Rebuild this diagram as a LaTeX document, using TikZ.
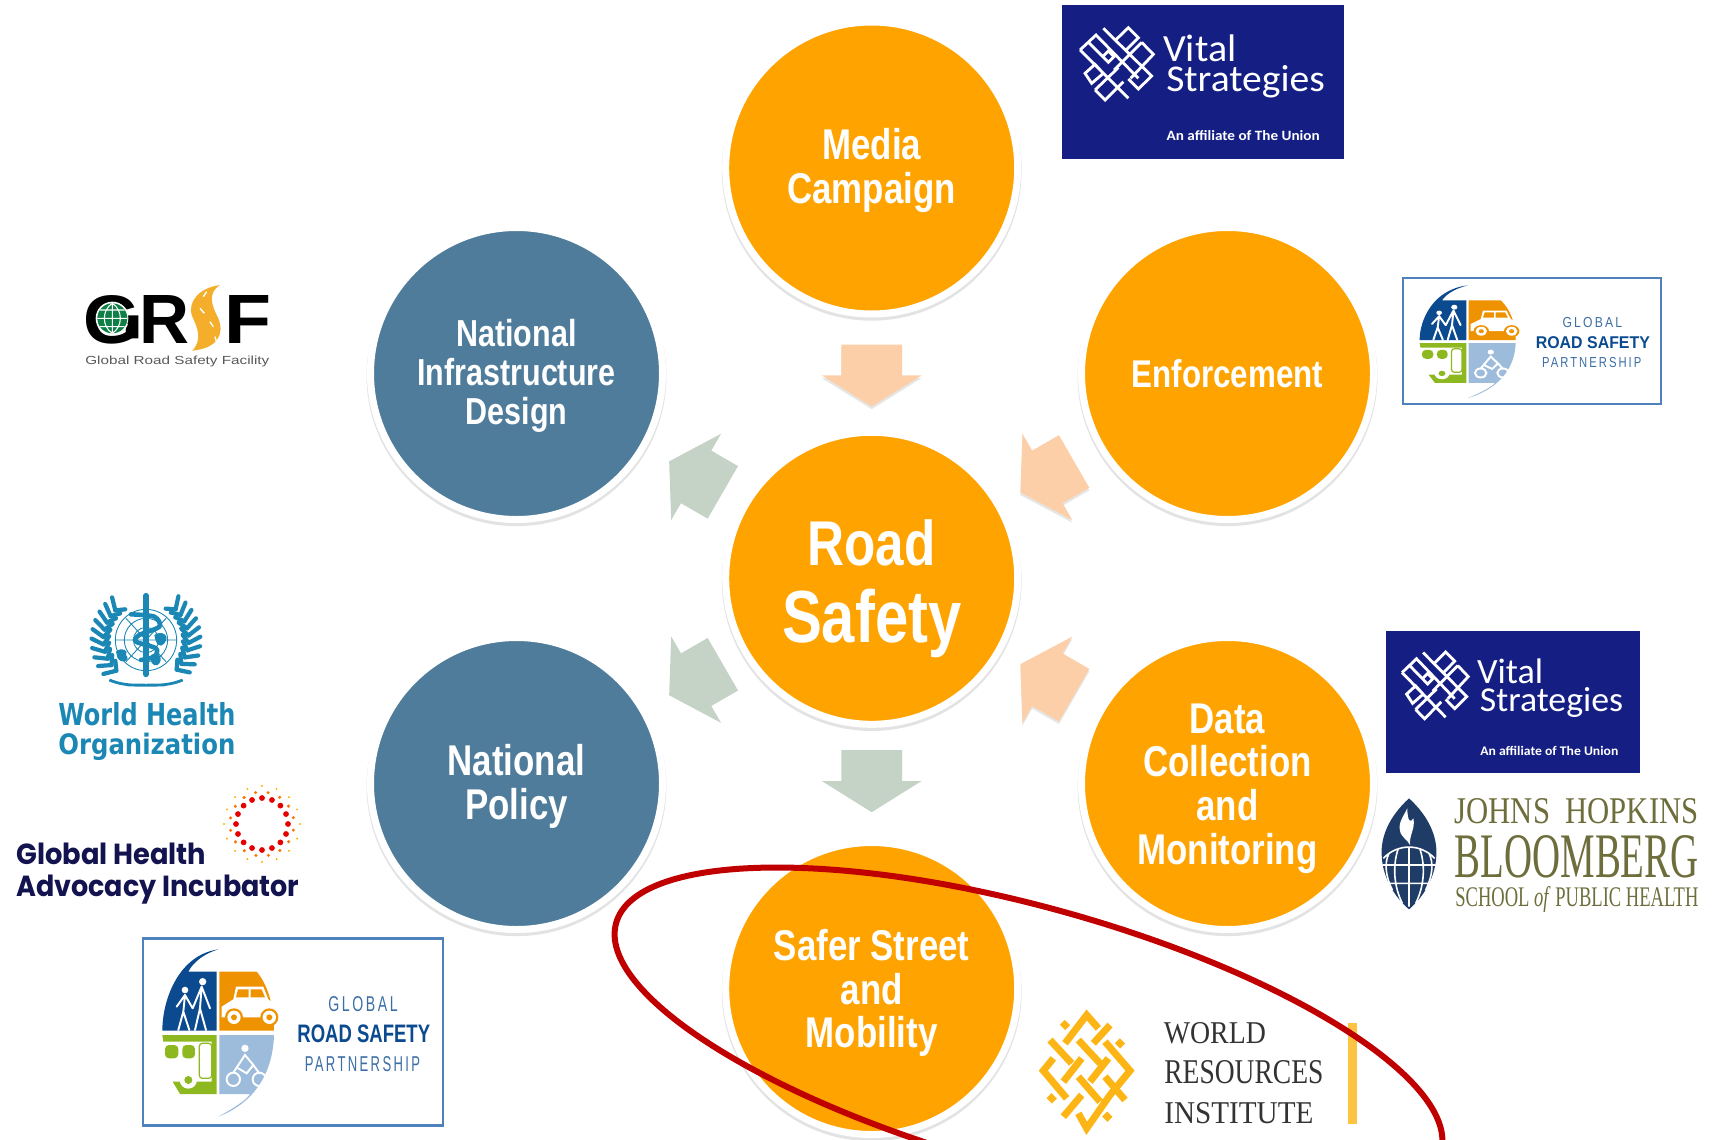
\documentclass[tikz,border=0pt]{standalone}
\usepackage{fontspec}
\usetikzlibrary{shapes.geometric,shapes.arrows,shadows}
\newfontfamily\labelfont[FakeStretch=0.81]{Liberation Sans}
\newfontfamily\plainfont{Liberation Sans}
\newfontfamily\spacedfont[LetterSpace=18]{Liberation Sans}
\newfontfamily\vitalfont{Carlito}
\newfontfamily\widefont{DejaVu Sans}
\newfontfamily\roundfont{Poppins}
\newfontfamily\bookfont{Liberation Serif}
\newlength\pixel
\setlength\pixel{.02cm}
\newcommand\fitbox[3]{\resizebox{#1\pixel}{#2\pixel}{#3}}
\newcommand\padtop[1]{\rule{0pt}{#1\pixel}}
\definecolor{hubamber}{HTML}{FFA300}
\definecolor{hubblue}{HTML}{4F7C9B}
\definecolor{peach}{HTML}{FDCFA9}
\definecolor{sage}{HTML}{C5D3C7}
\definecolor{ringred}{HTML}{C00000}
\definecolor{vitalnavy}{HTML}{151F83}
\definecolor{grspline}{HTML}{4F81BD}
\definecolor{grspnavy}{HTML}{0B4A8F}
\definecolor{grsporange}{HTML}{EE9200}
\definecolor{grspgreen}{HTML}{8DB81F}
\definecolor{grspsky}{HTML}{9DBCDC}
\definecolor{whoblue}{HTML}{1B87B5}
\definecolor{ghainavy}{HTML}{12134F}
\definecolor{jhuolive}{HTML}{6E6E3C}
\definecolor{jhunavy}{HTML}{1F3C66}
\definecolor{wrigold}{HTML}{FDB515}
\definecolor{grsfroad}{HTML}{F5AE2B}
\definecolor{grsfgreen}{HTML}{0E7F45}

\newcommand\vitallogo[5]{%
\begin{scope}[shift={(#2,#3)},xscale=#4,yscale=#5]
\fill[vitalnavy] (0,0) rectangle (282,153.7);
\node[logotext,text=white] (#1a) at (100.8,56.7) {\vitalfont\fitbox{73.3}{26.7}{Vital}};
\node[logotext,text=white] (#1b) at (103.9,86.7) {\vitalfont\fitbox{158.6}{26}{Strategies}};
\node[logotext,text=white] (#1c) at (104.3,135) {\vitalfont\bfseries\fitbox{153}{10}{An affiliate of The Union}};
\begin{scope}[shift={(8,10)},scale=1/3]
\draw[white,line width=1.6pt,line join=miter]
 (100,40)--(245,183)--(205,222)--(175,192)
 (30,105)--(78,60)--(205,190)
 (30,105)--(175,250)
 (55,82)--(105,132)
 (140,72)--(175,38)--(205,68)--(165,108)
 (215,82)--(250,118)--(182,190)
 (215,82)--(132,165)
 (45,175)--(75,148)--(100,175)--(65,205)--cycle
 (75,225)--(145,158)
 (75,225)--(105,255)--(160,200)
 (115,108)--(98,125)--(115,142)--(132,125)--cycle;
\end{scope}
\end{scope}}

\newcommand\grsplogo[5]{%
\begin{scope}[shift={(#2,#3)},xscale=#4,yscale=#5]
\draw[grspline,line width=2.4\pixel] (-21,-5) rectangle (879,556);
\fill[grspnavy] (37,272) .. controls (37,180) and (85,45) .. (205,28) .. controls (165,40) and (130,65) .. (115,95) -- (200,95) -- (200,272) -- cycle;
\fill[grsporange] (208,95) -- (320,95) .. controls (350,130) and (372,190) .. (372,272) -- (208,272) -- cycle;
\fill[white] (215,232) -- (215,200) -- (250,178) -- (258,140) -- (340,140) -- (355,178) -- (372,190) -- (372,232) -- cycle;
\fill[grsporange] (264,148) -- (296,148) -- (296,172) -- (258,172) -- cycle (302,148) -- (335,148) -- (345,172) -- (302,172) -- cycle;
\foreach \x in {252,358} {
\fill[grsporange] (\x,232) circle [radius=27];
\fill[white] (\x,232) circle [radius=20];
\fill[grsporange] (\x,232) circle [radius=9];
}
\fill[grspgreen] (37,285) -- (200,285) -- (200,462) -- (90,462) -- (68,425) -- (185,425) -- (185,305) -- (40,305) -- cycle;
\fill[grspgreen,rounded corners=4\pixel] (45,315) rectangle (85,355) (97,315) rectangle (135,355);
\draw[grspgreen,line width=.7pt,rounded corners=3\pixel] (148,310) rectangle (185,415);
\fill[white] (115,420) circle [radius=26];
\fill[grspgreen] (115,420) circle [radius=12];
\fill[grspsky] (208,285) -- (372,285) .. controls (370,370) and (335,480) .. (205,530) .. controls (250,505) and (290,480) .. (300,462) -- (208,462) -- cycle;
\draw[white,line width=1.1pt,line cap=round]
 (250,418) circle [radius=20] (328,418) circle [radius=20]
 (250,398) -- (285,345) -- (310,375) -- (328,400)
 (265,385) -- (290,400) -- (310,375);
\fill[white] (285,325) circle [radius=11];
\fill[white] (105,150) circle [radius=10] (158,125) circle [radius=11];
\draw[white,line width=1.1pt,line cap=round,line join=round]
 (105,165) -- (100,215) -- (85,270) (100,215) -- (118,270)
 (105,165) -- (80,200) (105,165) -- (128,205)
 (155,140) -- (150,205) -- (135,270) (150,205) -- (168,270)
 (155,140) -- (128,205) (155,140) -- (180,205);
\node[logotext,text=grspnavy!80] (#1a) at (535,214) {\spacedfont\fitbox{208}{45}{GLOBAL}};
\node[logotext,text=grspnavy] (#1b) at (442,307) {\plainfont\bfseries\fitbox{398}{53}{ROAD SAFETY}};
\node[logotext,text=grspnavy!80] (#1c) at (464,393) {\spacedfont\fitbox{346}{45}{PARTNERSHIP}};
\end{scope}}

\begin{document}
\begin{tikzpicture}[x=.02cm,y=-.02cm]
\tikzstyle{logotext}=[inner sep=0pt, anchor=base west, transform shape]
\tikzstyle{hub}=[circle, draw=white, line width=7\pixel, minimum size=292\pixel, inner sep=0pt, align=center, text=white, font=\labelfont\bfseries\fontsize{24.5}{25}\selectfont, drop shadow={shadow xshift=0pt, shadow yshift=-1.5pt, shadow scale=1.027, opacity=.22}]
\tikzstyle{blockarrow}=[single arrow, minimum height=62\pixel, single arrow head extend=19.5\pixel, single arrow tip angle=116, single arrow head indent=0pt, inner xsep=0pt, inner ysep=30\pixel, anchor=tip]
\useasboundingbox (0,0) rectangle (1716,1139);
\clip (0,0) rectangle (1716,1139);

\node[hub,fill=hubamber,font=\labelfont\bfseries\fontsize{36}{43.8}\selectfont] (road) at (871.7,578.3) {\padtop{66}Road\\[0pt]{\fontsize{42}{43.8}\selectfont Safety}};
\node[hub,fill=hubamber] (media) at (871.7,168) {\padtop{35.4}Media\\Campaign};
\node[hub,fill=hubamber,font=\labelfont\bfseries\fontsize{22}{23}\selectfont] (enforce) at (1227.5,373.5) {Enforcement};
\node[hub,fill=hubamber] (datacoll) at (1227.5,783.5) {\padtop{40}Data\\Collection\\and\\Monitoring};
\node[hub,fill=hubamber] (safer) at (871.7,988.5) {\padtop{40}Safer Street\\and\\Mobility};
\node[hub,fill=hubblue,font=\labelfont\bfseries\fontsize{21.4}{22.2}\selectfont] (infra) at (516.5,373.5) {\padtop{32}National\\Infrastructure\\Design};
\node[hub,fill=hubblue] (policy) at (516.5,783.5) {\padtop{37.6}National\\Policy};

\foreach \a/\d/\n in {90/270/in1,30/210/in2,-30/150/in3} {
\node[blockarrow,fill=peach,rotate=\d,drop shadow={shadow xshift=0pt, shadow yshift=-1.5pt, opacity=.2}] (\n) at ([shift={(\a:171.3\pixel)}]road.center) {};
}
\foreach \a/\n in {150/out1,210/out2,270/out3} {
\node[blockarrow,fill=sage,rotate=\a] (\n) at ([shift={(\a:234.3\pixel)}]road.center) {};
}

\vitallogo{vitaltop}{1062}{5}{1}{1}
\vitallogo{vitalside}{1385.8}{631}{.9025}{.924}
\grsplogo{grspside}{1409}{279.1}{.2867}{.2246}
\grsplogo{grspleft}{150}{940}{.3333}{.3333}

\node[logotext] (grsfg) at (83,343.3) {\plainfont\bfseries\fitbox{57}{48}{G}};
\node[logotext] (grsfr) at (139,343.3) {\plainfont\bfseries\fitbox{50}{48}{R}};
\node[logotext] (grsff) at (224,343.3) {\plainfont\bfseries\fitbox{47}{48}{F}};
\node[logotext,text=black!65] (grsfname) at (85,364) {\plainfont\fitbox{184}{8.5}{Global Road Safety Facility}};
\begin{scope}[shift={(75,280)},scale=1/3]
\fill[white] (112,115) circle [radius=50];
\fill[black] (135,106) rectangle (190,132) (165,106) rectangle (190,175);
\fill[white] (112,115) circle [radius=48];
\fill[grsfgreen] (112,115) circle [radius=45];
\draw[white,line width=.6pt] (112,70) -- (112,160) (67,115) -- (157,115) (75,90) -- (149,90) (75,140) -- (149,140) (112,70) .. controls (80,90) and (80,140) .. (112,160) (112,70) .. controls (144,90) and (144,140) .. (112,160);
\fill[grsfroad] (435,15) .. controls (365,25) and (340,70) .. (350,105) .. controls (365,140) and (385,175) .. (352,212) .. controls (425,205) and (450,165) .. (430,115) .. controls (412,80) and (395,40) .. (435,15) -- cycle;
\draw[white,line width=.8pt] (375,85) -- (388,100) (405,125) -- (415,140) (420,170) -- (425,188) (385,50) -- (395,35);
\end{scope}

\begin{scope}[shift={(76,585)},scale=1/3]
\draw[whoblue,line width=.5pt] (210,165) circle [radius=92] (210,165) circle [radius=65] (210,165) circle [radius=38] (118,165) -- (302,165) (150,100) -- (270,230) (270,100) -- (150,230) (210,73) -- (210,257);
\foreach \t in {134,144,...,226} {
\draw[whoblue,line width=2.4pt,line cap=round] (210,165) ++(\t:128) -- ++(\t+32:40);
\draw[whoblue,line width=2.4pt,line cap=round] (210,165) ++(\t:128) -- ++(\t-50:-30);
}
\foreach \t in {-46,-36,...,46} {
\draw[whoblue,line width=2.4pt,line cap=round] (210,165) ++(\t:128) -- ++(\t-32:40);
\draw[whoblue,line width=2.4pt,line cap=round] (210,165) ++(\t:128) -- ++(\t+50:-30);
}
\draw[whoblue,line width=1.6pt] (100,285) .. controls (150,305) and (180,300) .. (265,300) (320,285) .. controls (270,305) and (240,300) .. (155,300);
\fill[whoblue] (120,200) .. controls (135,185) and (160,195) .. (150,210) .. controls (165,225) and (140,240) .. (125,220) -- cycle;
\fill[whoblue] (235,150) .. controls (255,135) and (285,150) .. (265,175) .. controls (250,190) and (240,180) .. (235,150) -- cycle;
\fill[whoblue] (225,210) .. controls (250,195) and (265,225) .. (245,240) .. controls (230,245) and (220,230) .. (225,210) -- cycle;
\draw[whoblue,line width=3.2pt,line cap=round] (210,32) -- (210,268);
\draw[whoblue,line width=2.6pt,line cap=round] plot[smooth] coordinates {(165,88) (235,95) (250,125) (190,150) (180,170) (240,190) (235,215) (195,225)};
\end{scope}
\node[logotext,text=whoblue] (whoa) at (58,725.7) {\widefont\bfseries\fitbox{177}{23}{World Health}};
\node[logotext,text=whoblue] (whob) at (58,754.6) {\widefont\bfseries\fitbox{177}{21.4}{Organization}};

\foreach \t in {0,22.5,...,340} {
\fill[red!90!black] (262,824) ++(\t:26) circle [radius=2.9];
\fill[orange!90!red] (262,824) ++(\t+11:32) circle [radius=1.7];
\fill[orange!60!yellow] (262,824) ++(\t:38) circle [radius=1.1];
}
\node[logotext,text=ghainavy] (ghaia) at (16,864.8) {\roundfont\bfseries\fitbox{190}{21.5}{Global Health}};
\node[logotext,text=ghainavy] (ghaib) at (16,896.7) {\roundfont\bfseries\fitbox{283}{21.5}{Advocacy Incubator}};

\begin{scope}[shift={(1374,790)},scale=1/3]
\fill[jhunavy] (105,25) .. controls (165,80) and (190,140) .. (187,195) .. controls (185,260) and (150,320) .. (105,358) .. controls (60,320) and (25,260) .. (23,195) .. controls (20,140) and (45,80) .. (105,25) -- cycle;
\fill[white] (100,55) .. controls (85,85) and (70,100) .. (80,130) .. controls (88,145) and (100,150) .. (108,165) .. controls (105,135) and (125,115) .. (118,85) .. controls (110,100) and (100,95) .. (100,55) -- cycle;
\draw[white,line width=.9pt] (28,205) .. controls (70,160) and (140,160) .. (182,205) (25,225) -- (185,225) (40,280) -- (170,280) (105,172) -- (105,350) (72,178) .. controls (55,230) and (60,290) .. (85,340) (138,178) .. controls (155,230) and (150,290) .. (125,340) (45,190) .. controls (30,220) and (35,260) .. (55,300) (165,190) .. controls (180,220) and (175,260) .. (155,300);
\end{scope}
\node[logotext,text=jhuolive] (jhua) at (1454.3,823) {\bookfont\fitbox{244}{25}{JOHNS\ \ HOPKINS}};
\node[logotext,text=jhuolive] (jhub) at (1454.3,877) {\bookfont\fitbox{244}{42}{BLOOMBERG}};
\node[logotext,text=jhuolive] (jhuc) at (1455,906) {\bookfont\fitbox{243}{20}{SCHOOL \textit{of} PUBLIC HEALTH}};

\begin{scope}[shift={(1030,1000)},scale=1/3]
\draw[wrigold,line width=4pt]
 (105,130)--(170,45)--(205,85)
 (190,130)--(240,75)
 (60,120)--(125,190)
 (145,120)--(210,190)
 (225,125)--(300,212)--(240,285)
 (70,175)--(40,212)--(110,295)
 (100,245)--(155,175)
 (180,245)--(235,175)
 (145,230)--(210,305)
 (225,230)--(285,300)
 (100,350)--(155,285)
 (145,340)--(170,385)--(240,285)
 (97,67)--(113,83)
 (262,122)--(278,138)
 (57,287)--(73,303)
 (224,342)--(240,358);
\end{scope}
\node[logotext,text=black!80] (wria) at (1163.5,1043) {\bookfont\fitbox{102}{21}{WORLD}};
\node[logotext,text=black!80] (wrib) at (1164,1083) {\bookfont\fitbox{159}{23}{RESOURCES}};
\node[logotext,text=black!80] (wric) at (1164,1123) {\bookfont\fitbox{149}{21}{INSTITUTE}};
\fill[wrigold!80] (1348,1023) rectangle (1357,1124);

\node[ellipse, draw=ringred, line width=6\pixel, minimum width=856\pixel, minimum height=261\pixel, inner sep=0pt, rotate=-15.5] (focus) at (1028.5,1037.5) {};
\end{tikzpicture}
\end{document}
